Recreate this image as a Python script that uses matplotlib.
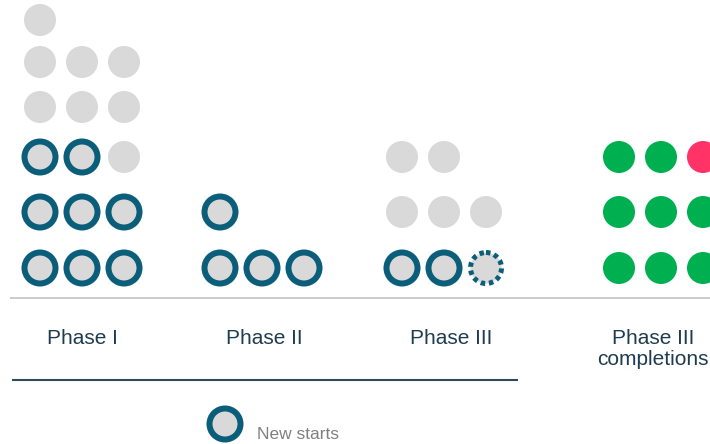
import matplotlib
matplotlib.use("Agg")
import matplotlib.pyplot as plt
from matplotlib.patches import Circle

plt.rcParams['font.family'] = ['Liberation Sans', 'DejaVu Sans']

# data: number of trials per phase
phases = ["Phase I", "Phase II", "Phase III", "Phase III\ncompletions"]
new_starts = [8, 4, 2, 0]      # solid ring
planned_starts = [0, 0, 1, 0]  # dashed ring
ongoing = [8, 0, 5, 0]         # plain grey
succeeded = [0, 0, 0, 8]       # green
failed = [0, 0, 0, 1]          # red
legend_label = "New starts"

# layout (pixels)
W, H = 710, 444
first_col = [40, 220, 402, 619]
col_step = 42
row_y = [268, 212, 157, 107, 62, 20]
label_x = [82, 264, 451, 653]
label_top = 329

TEAL = "#0b5e79"
GREY = "#d9d9d9"
GREEN = "#00b050"
RED = "#ff3366"

fig = plt.figure(figsize=(W / 100, H / 100), dpi=100)
ax = fig.add_axes([0, 0, 1, 1])
ax.set_xlim(0, W)
ax.set_ylim(H, 0)
ax.set_aspect('equal')
ax.axis('off')

px = 0.72  # points per pixel


def ring(x, y, dashed=False):
    ax.add_patch(Circle((x, y), 15.5, facecolor=GREY, edgecolor=TEAL,
                        linewidth=6 * px if not dashed else 5 * px,
                        linestyle=(0, (0.9, 0.75)) if dashed else '-',
                        zorder=3))


def dot(x, y, color):
    ax.add_patch(Circle((x, y), 16, facecolor=color, edgecolor='none', zorder=2))


for i in range(len(phases)):
    kinds = (['ring'] * new_starts[i] + ['dash'] * planned_starts[i]
             + ['grey'] * ongoing[i] + ['green'] * succeeded[i]
             + ['red'] * failed[i])
    for k, kind in enumerate(kinds):
        x = first_col[i] + (k % 3) * col_step
        y = row_y[k // 3]
        if kind == 'ring':
            ring(x, y)
        elif kind == 'dash':
            ring(x, y, dashed=True)
        elif kind == 'grey':
            dot(x, y, GREY)
        elif kind == 'green':
            dot(x, y, GREEN)
        else:
            dot(x, y, RED)
    ax.text(label_x[i], label_top, phases[i], ha='center', va='top',
            fontsize=15, color="#1d3c4f", linespacing=1.1)

ax.plot([10, W], [298, 298], color="#c4c4c4", lw=1.2, solid_capstyle='butt')
ax.plot([12, 518], [380, 380], color="#2e4a5b", lw=1.5, solid_capstyle='butt')

# legend
ring(225, 424)
ax.text(257, 434, legend_label, ha='left', va='center', fontsize=12.5, color="#808080")

fig.savefig("out.png", dpi=100)
